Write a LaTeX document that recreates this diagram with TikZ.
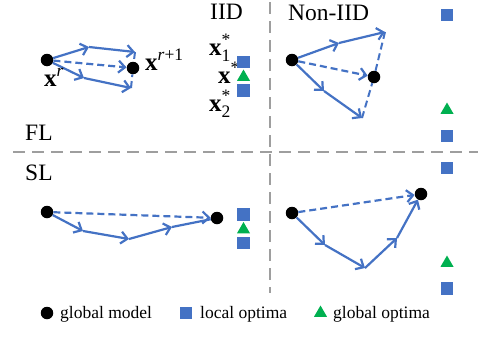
\documentclass[tikz,border=0pt]{standalone}
\usepackage{amsmath}
\usepackage{fontspec}
\setmainfont{Liberation Serif}
\usetikzlibrary{arrows.meta,shapes.geometric}
\definecolor{optblue}{HTML}{4472C4}
\definecolor{optgreen}{HTML}{00B050}
\tikzset{
  dot/.style={circle,fill=black,inner sep=0pt,minimum size=12.5pt},
  locopt/.style={fill=optblue,inner sep=0pt,minimum size=12.5pt},
  globopt/.style={regular polygon,regular polygon sides=3,fill=optgreen,inner sep=0pt,minimum size=15pt},
  upd/.style={draw=optblue,line width=2.2pt,-{Straight Barb[length=6.5pt,width=12pt]}},
  avg/.style={upd,dash pattern=on 7pt off 4pt},
  pull/.style={draw=optblue,line width=2pt,dash pattern=on 7pt off 4pt},
  sep/.style={draw=black!38,line width=2pt,dash pattern=on 12pt off 7pt},
  lbl/.style={anchor=base west,inner sep=0pt},
  title/.style={lbl,font=\fontsize{23.5}{28}\selectfont},
  vec/.style={lbl,font=\fontsize{25}{28}\selectfont},
  legend/.style={lbl,font=\fontsize{17.5}{21}\selectfont},
}
\newcommand{\mx}{\textbf{x}}
\begin{document}
\begin{tikzpicture}[x=1pt,y=-1pt,line cap=butt,line join=miter]
  \useasboundingbox (0,0) rectangle (478,356);
  \draw[sep] (13,152) -- (478,152);
  \draw[sep] (270,2) -- (270,293);
  \node[title] (iid) at (210,19) {IID};
  \node[title] (noniid) at (288,20) {Non-IID};
  \node[title] (fl) at (25,140) {FL};
  \node[title] (sl) at (25,180) {SL};

  % FL, IID
  \node[dot] (a0) at (47,60) {};
  \node[dot] (a1) at (133,68) {};
  \coordinate (a2) at (89,47);
  \coordinate (a3) at (135,52);
  \coordinate (a4) at (84,78);
  \coordinate (a5) at (131,88);
  \draw[upd] (a0) -- (a2);
  \draw[upd] (a2) -- (a3);
  \draw[upd] (a0) -- (a4);
  \draw[upd] (a4) -- (a5);
  \draw[pull] (a3) -- (a1);
  \draw[pull] (a5) -- (a1);
  \draw[avg] (a0) -- (a1);
  \node[vec] (xr) at (44,86) {$\mx^{\textit{r}}$};
  \node[vec] (xr1) at (145,70) {$\mx^{\textit{r}\text{+1}}$};
  \node[vec] (x1) at (209,55) {$\mx^{\text{*}}_{\text{1}}$};
  \node[vec] (xs) at (218,83) {$\mx^{\text{*}}$};
  \node[vec] (x2) at (209,111) {$\mx^{\text{*}}_{\text{2}}$};
  \node[locopt] (p1) at (243.5,62) {};
  \node[globopt] (g1) at (243.5,77) {};
  \node[locopt] (p2) at (243.5,90.5) {};

  % FL, non-IID
  \node[dot] (b0) at (292,60) {};
  \node[dot] (b1) at (374,77) {};
  \coordinate (b2) at (339,43);
  \coordinate (b3) at (385,32);
  \coordinate (b4) at (324,91);
  \coordinate (b5) at (362,118);
  \draw[upd] (b0) -- (b2);
  \draw[upd] (b2) -- (b3);
  \draw[upd] (b0) -- (b4);
  \draw[upd] (b4) -- (b5);
  \draw[pull] (b3) -- (b1);
  \draw[pull] (b5) -- (b1);
  \draw[avg] (b0) -- (b1);
  \node[locopt] (q1) at (447,15) {};
  \node[globopt] (g2) at (447,110) {};
  \node[locopt] (q2) at (447,136) {};

  % SL, IID
  \node[dot] (c0) at (47,212) {};
  \node[dot] (c1) at (217,218) {};
  \coordinate (c2) at (83,231);
  \coordinate (c3) at (129,239);
  \coordinate (c4) at (172,227);
  \draw[upd] (c0) -- (c2);
  \draw[upd] (c2) -- (c3);
  \draw[upd] (c3) -- (c4);
  \draw[upd,-] (c4) -- (c1);
  \draw[avg] (c0) -- (c1);
  \node[locopt] (p3) at (243.5,214.5) {};
  \node[globopt] (g3) at (243.5,229.5) {};
  \node[locopt] (p4) at (243.5,243) {};

  % SL, non-IID
  \node[dot] (d0) at (292,213) {};
  \node[dot] (d1) at (421,194) {};
  \coordinate (d2) at (325,245);
  \coordinate (d3) at (365,268);
  \coordinate (d4) at (397,238);
  \draw[upd] (d0) -- (d2);
  \draw[upd] (d2) -- (d3);
  \draw[upd] (d3) -- (d4);
  \draw[upd] (d4) -- (d1);
  \draw[avg] (d0) -- (d1);
  \node[locopt] (q3) at (447,168) {};
  \node[globopt] (g4) at (447,263) {};
  \node[locopt] (q4) at (447,288.5) {};

  % legend
  \node[dot] (k1) at (47,313) {};
  \node[legend] (t1) at (60,318) {global model};
  \node[locopt] (k2) at (186,313) {};
  \node[legend] (t2) at (200,318) {local optima};
  \node[globopt] (k3) at (320.5,313) {};
  \node[legend] (t3) at (333,318) {global optima};
\end{tikzpicture}
\end{document}
